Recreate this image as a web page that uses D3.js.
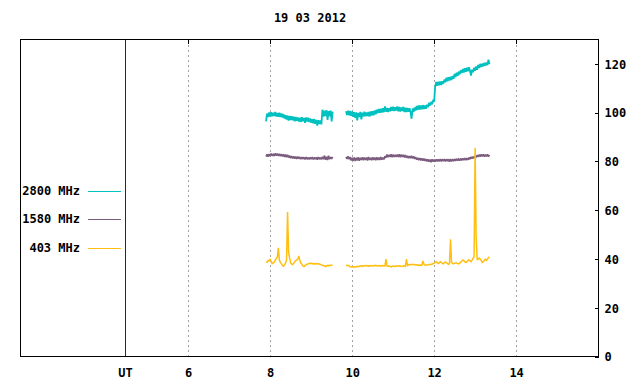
<!DOCTYPE html>
<html>
<head>
<meta charset="utf-8">
<script src="https://cdn.jsdelivr.net/npm/d3@7"></script>
<style>
  html, body { margin: 0; padding: 0; background: #fff; }
  svg { display: block; }
  text { font-family: "DejaVu Sans Mono", "Liberation Mono", monospace; font-size: 12px; font-weight: bold; fill: #000; }
</style>
</head>
<body>
<script>
// ---------------- DATA ----------------
const title = "19 03 2012";
const xTicks = [6, 8, 10, 12, 14];
const yTicks = [0, 20, 40, 60, 80, 100, 120];
const utMark = 4.47;
const seriesNames = ["2800 MHz", "1580 MHz", "403 MHz"];
// sampling: two segments, hour start of each, fixed step in hours
const segStart = [7.90, 9.85];
const stepHours = 0.025;

const s2800a = [96.4,99.6,98.2,100.1,98.4,100.2,98.5,100.0,98.6,100.3,
  98.4,99.9,98.3,100.0,98.2,99.7,98.0,99.4,97.6,99.0,
  97.2,98.8,96.8,98.6,97.0,98.5,96.9,98.3,96.5,98.2,
  96.7,98.0,96.4,97.9,96.2,98.1,96.5,97.8,95.8,98.0,
  96.4,97.9,96.2,97.6,95.9,97.3,95.6,97.4,95.4,97.0,
  94.7,96.9,95.3,96.8,95.2,101.2,98.4,100.8,98.6,101.0,
  97.0,100.6,98.5,100.9,96.4,100.4];
const s2800b = [100.6,99.0,100.8,98.9,100.7,98.7,100.5,98.3,100.2,97.9,
  100.1,96.8,99.9,98.2,100.3,97.2,100.0,98.4,100.4,98.5,
  100.1,98.6,100.3,98.4,100.5,98.8,100.6,98.9,100.9,99.3,
  101.2,99.8,101.5,100.0,101.6,100.1,101.8,100.2,102.6,100.4,
  101.9,100.3,101.8,100.6,102.3,100.8,102.4,100.7,102.2,100.9,
  102.5,100.6,102.3,100.5,102.1,100.7,102.4,100.2,102.0,100.3,
  101.9,100.4,101.8,100.2,97.5,101.7,100.4,102.1,100.9,102.7,
  101.2,103.0,101.3,102.9,101.4,103.1,101.5,102.9,101.6,103.3,
  102.2,104.0,102.9,104.4,103.4,104.9,104.6,110.5,112.6,111.0,
  112.7,111.2,112.8,111.3,112.9,111.9,113.6,112.5,114.3,112.9,
  114.5,113.2,114.7,113.4,115.0,113.9,115.9,114.6,116.4,115.1,
  116.8,115.7,117.4,116.3,117.9,116.5,118.2,116.8,118.4,117.0,
  118.6,117.2,115.2,117.6,116.6,118.4,117.2,118.9,117.6,119.6,
  118.3,120.0,118.7,120.1,119.0,120.4,119.3,120.6,119.5,121.7,
  119.9];

const s1580a = [82.0,82.9,81.9,83.0,82.2,83.2,82.3,83.1,82.2,83.3,
  82.4,83.2,82.3,83.1,82.2,83.0,82.1,82.9,81.8,82.8,
  81.7,82.7,81.6,82.4,81.3,82.2,81.2,82.1,81.1,82.0,
  81.0,82.0,81.1,81.8,80.9,81.8,81.0,81.7,80.8,81.8,
  80.9,81.6,80.8,81.7,80.9,81.8,80.8,81.6,80.9,81.7,
  80.7,81.8,80.9,81.6,80.8,81.9,80.9,82.4,80.7,81.9,
  80.6,82.3,80.9,81.8,81.0,81.9];
const s1580b = [81.9,81.0,82.1,80.9,81.8,80.4,81.5,80.3,81.6,80.2,
  81.5,80.4,81.7,80.3,81.5,80.6,81.7,80.5,81.6,80.6,
  81.6,80.4,81.8,80.6,81.5,80.5,81.7,80.6,81.6,80.5,
  81.7,80.6,81.6,80.6,81.8,80.7,81.6,80.8,82.1,81.5,
  82.8,81.7,82.7,81.8,82.9,81.7,82.8,81.8,82.7,81.9,
  82.8,81.8,82.9,81.7,82.8,81.8,82.7,81.6,82.6,81.5,
  82.3,81.3,82.2,81.3,82.3,81.2,82.1,81.0,81.8,80.7,
  81.5,80.5,81.4,80.4,81.3,80.3,81.2,80.2,81.0,80.0,
  80.9,79.9,80.8,79.7,80.9,79.9,80.8,79.9,80.9,80.0,
  80.9,80.0,81.0,80.0,80.9,80.1,81.0,80.0,80.9,80.1,
  80.9,79.9,81.0,80.0,80.9,80.1,81.0,80.2,81.1,80.3,
  81.0,80.3,81.2,80.4,81.3,80.5,81.4,80.5,81.4,80.6,
  81.6,80.9,81.9,81.1,82.0,81.3,82.2,81.6,82.6,81.9,
  82.8,82.0,82.9,82.1,82.9,82.0,82.8,82.1,82.9,82.0,
  82.7];

const s403a = [38.8,38.6,39.4,39.2,39.8,38.9,38.1,38.4,38.7,39.5,
  40.2,40.8,44.6,39.5,38.6,38.1,37.3,37.0,37.6,38.3,
  39.6,59.3,42.8,40.4,38.5,37.9,37.7,38.2,38.8,39.3,
  39.6,40.0,41.2,39.4,38.3,37.8,37.1,36.9,37.3,37.6,
  37.8,37.9,38.2,38.1,38.3,38.0,38.2,37.9,38.1,38.0,
  38.2,37.9,38.0,37.8,37.6,37.3,37.4,37.2,36.9,37.1,
  37.4,37.2,37.5,37.3,37.4,37.5];
const s403b = [37.4,37.3,37.4,37.2,36.8,36.7,36.9,36.6,36.8,36.7,
  36.9,36.8,37.0,36.9,37.1,37.2,37.0,37.3,37.1,37.2,
  37.3,37.1,37.2,37.0,37.3,37.2,37.1,37.3,37.2,37.4,
  37.2,37.1,37.3,37.2,37.0,37.2,37.3,37.1,37.2,39.9,
  37.1,37.0,37.2,36.9,36.7,37.0,37.1,36.9,37.0,37.2,
  37.1,37.0,37.2,37.1,36.9,37.0,37.2,37.1,37.0,39.9,
  37.3,37.6,37.7,37.6,37.7,37.8,37.6,37.7,37.5,37.6,
  37.4,37.5,37.3,37.6,37.4,39.2,37.9,37.5,37.4,37.5,
  37.7,37.6,37.8,37.7,37.9,38.0,38.3,38.6,38.9,38.5,
  38.1,38.4,38.9,38.6,38.2,38.0,38.5,38.8,38.4,38.2,
  37.8,38.1,48.1,38.6,38.3,38.0,38.2,38.4,38.3,38.1,
  38.0,38.3,38.7,39.2,39.6,39.3,38.8,38.5,38.9,39.4,
  39.7,39.2,38.9,39.5,40.3,40.9,85.5,49.0,39.6,39.9,
  40.4,40.0,39.3,38.6,38.9,39.5,39.9,39.4,39.8,40.6,
  40.8];

const colors = ["#00c0c0", "#7b5c7e", "#ffbf10"];
const seriesSegments = [[s2800a, s2800b], [s1580a, s1580b], [s403a, s403b]];

// ---------------- CHART ----------------
const W = 640, H = 384;
const L = 20.5, R = 598.5, T = 39.5, B = 356.5;

const svg = d3.select("body").append("svg").attr("width", W).attr("height", H);

const x = d3.scaleLinear().domain([1.91, 16.01]).range([L, R]);
const y = d3.scaleLinear().domain([0, 130]).range([B, T]);

// grid (dashed verticals)
svg.append("g").selectAll("line").data(xTicks).join("line")
  .attr("x1", d => Math.round(x(d)) + 0.5).attr("x2", d => Math.round(x(d)) + 0.5)
  .attr("y1", T).attr("y2", B)
  .attr("stroke", "#a0a0a0").attr("stroke-width", 1)
  .attr("stroke-dasharray", "2,3").attr("shape-rendering", "crispEdges");

// UT marker line
svg.append("line")
  .attr("x1", Math.round(x(utMark)) + 0.5).attr("x2", Math.round(x(utMark)) + 0.5)
  .attr("y1", T).attr("y2", B)
  .attr("stroke", "#8b0000").attr("stroke-width", 1).attr("shape-rendering", "crispEdges");

// top ticks
svg.append("g").selectAll("line").data(xTicks).join("line")
  .attr("x1", d => Math.round(x(d)) + 0.5).attr("x2", d => Math.round(x(d)) + 0.5)
  .attr("y1", T).attr("y2", T + 4)
  .attr("stroke", "#000").attr("shape-rendering", "crispEdges");

// data
const line = d3.line().x(d => x(d[0])).y(d => y(d[1]));
const widths = [1.8, 1.6, 1.5];
seriesSegments.forEach((segs, si) => {
  segs.forEach((vals, k) => {
    const pts = vals.map((v, i) => [segStart[k] + i * stepHours, v]);
    svg.append("path").datum(pts)
      .attr("d", line)
      .attr("fill", "none")
      .attr("stroke", colors[si])
      .attr("stroke-width", widths[si])
      .attr("stroke-linejoin", "miter")
      .attr("stroke-miterlimit", 2);
  });
});

// right axis
const yAxis = d3.axisRight(y).tickValues(yTicks).tickSize(0).tickPadding(6).tickFormat(d3.format("d"));
const ya = svg.append("g").attr("transform", `translate(${R},0)`).call(yAxis);
ya.select(".domain").remove();
ya.selectAll("text").attr("font-size", null).attr("font-family", null).attr("dy", "0.36em");
svg.append("g").selectAll("line").data(yTicks).join("line")
  .attr("x1", R - 4).attr("x2", R)
  .attr("y1", d => Math.round(y(d)) + 0.5).attr("y2", d => Math.round(y(d)) + 0.5)
  .attr("stroke", "#000").attr("shape-rendering", "crispEdges");

// bottom labels
const xAxis = d3.axisBottom(x).tickValues(xTicks).tickSize(0).tickPadding(12).tickFormat(d3.format("d"));
const xa = svg.append("g").attr("transform", `translate(0,${B})`).call(xAxis);
xa.select(".domain").remove();
xa.selectAll("text").attr("font-size", null).attr("font-family", null);
svg.append("text").attr("x", x(utMark)).attr("y", B + 12).attr("dy", "0.71em")
  .attr("text-anchor", "middle").text("UT");

// border
svg.append("rect").attr("x", L).attr("y", T).attr("width", R - L).attr("height", B - T)
  .attr("fill", "none").attr("stroke", "#000").attr("stroke-width", 1)
  .attr("shape-rendering", "crispEdges");

// title
svg.append("text").attr("x", 310).attr("y", 22).attr("text-anchor", "middle").text(title);

// legend
const legY = [191, 219, 248];
const lg = svg.append("g");
seriesNames.forEach((n, i) => {
  lg.append("text").attr("x", 80).attr("y", legY[i]).attr("dy", "0.36em")
    .attr("text-anchor", "end").text(n);
  lg.append("line").attr("x1", 88).attr("x2", 121)
    .attr("y1", legY[i] + 0.5).attr("y2", legY[i] + 0.5)
    .attr("stroke", colors[i]).attr("stroke-width", 1).attr("shape-rendering", "crispEdges");
});
</script>
</body>
</html>
